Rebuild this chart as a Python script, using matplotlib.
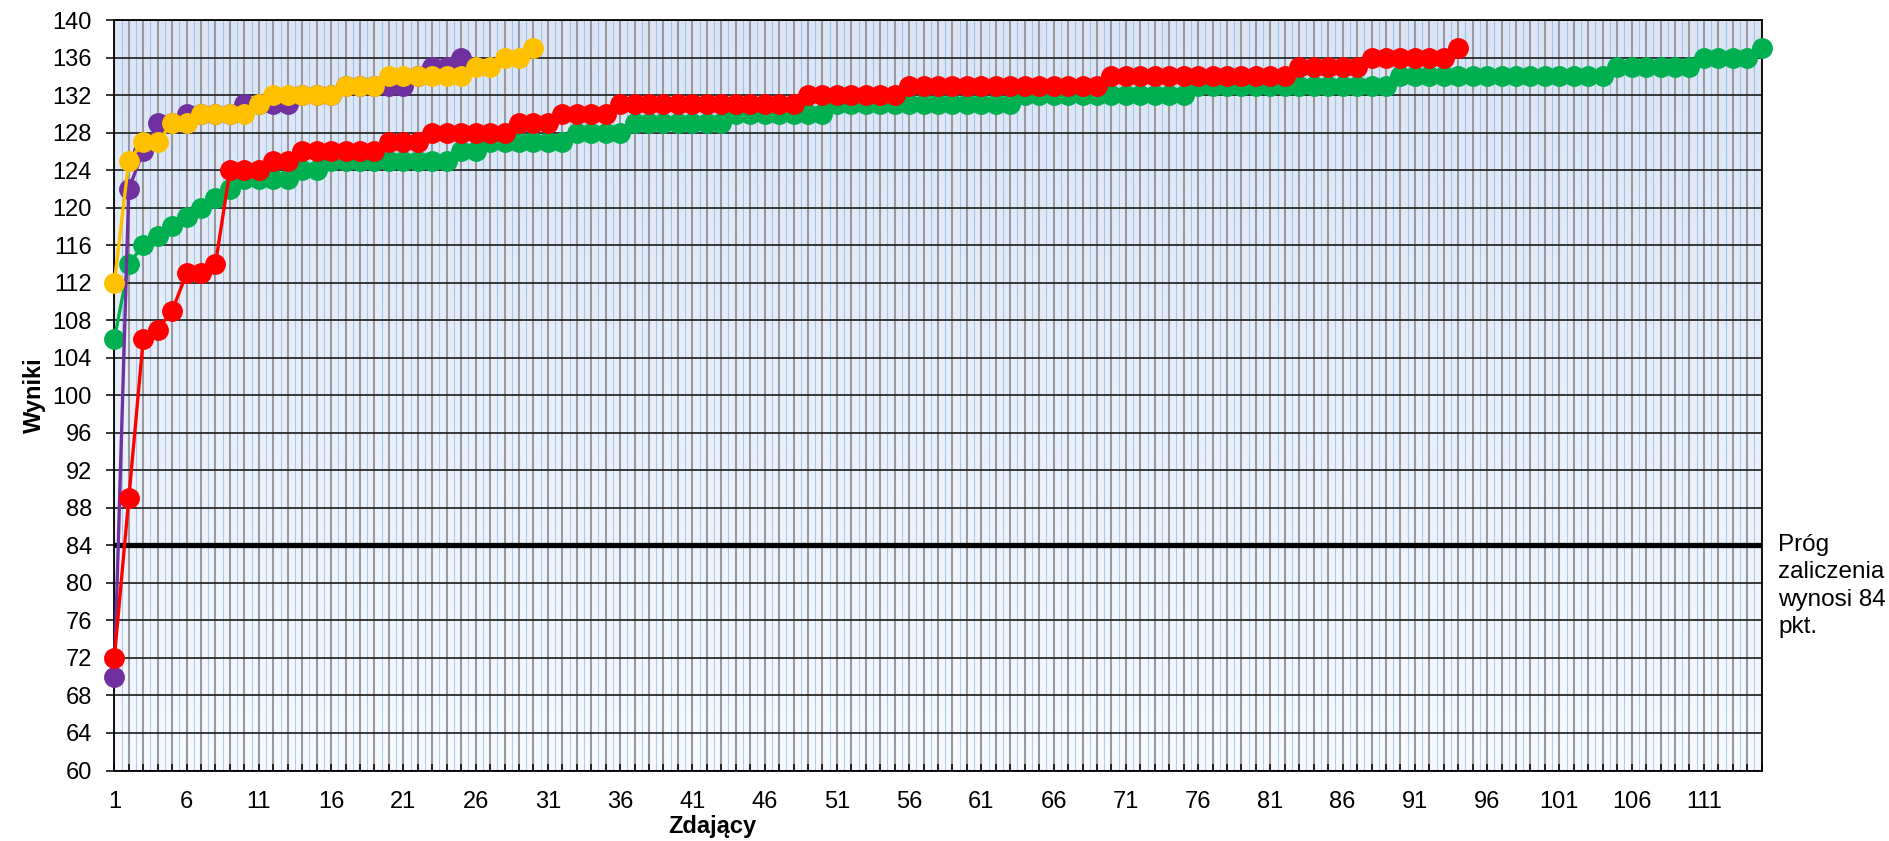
import matplotlib
matplotlib.use('Agg')
import matplotlib.pyplot as plt
import numpy as np

plt.rcParams['font.family'] = ['Liberation Sans', 'DejaVu Sans']

# wyniki zdających (posortowane rosnąco), cztery grupy
purple = [70, 122, 126, 129, 129, 130, 130, 130, 130, 131, 131, 131, 131,
          132, 132, 132, 133, 133, 133, 133, 133, 134, 135, 135, 136]
yellow = [112, 125, 127, 127, 129, 129, 130, 130, 130, 130, 131, 132, 132,
          132, 132, 132, 133, 133, 133, 134, 134, 134, 134, 134, 134, 135,
          135, 136, 136, 137]
red = [72, 89, 106, 107, 109, 113, 113, 114, 124, 124, 124, 125, 125,
       126, 126, 126, 126, 126, 126, 127, 127, 127, 128, 128, 128, 128,
       128, 128, 129, 129, 129, 130, 130, 130, 130, 131, 131, 131, 131,
       131, 131, 131, 131, 131, 131, 131, 131, 131, 132, 132, 132, 132,
       132, 132, 132, 133, 133, 133, 133, 133, 133, 133, 133, 133, 133,
       133, 133, 133, 133, 134, 134, 134, 134, 134, 134, 134, 134, 134,
       134, 134, 134, 134, 135, 135, 135, 135, 135, 136, 136, 136, 136,
       136, 136, 137]
green = [106, 114, 116, 117, 118, 119, 120, 121, 122, 123, 123, 123, 123,
         124, 124, 125, 125, 125, 125, 125, 125, 125, 125, 125, 126, 126,
         127, 127, 127, 127, 127, 127, 128, 128, 128, 128, 129, 129, 129,
         129, 129, 129, 129, 130, 130, 130, 130, 130, 130, 130, 131, 131,
         131, 131, 131, 131, 131, 131, 131, 131, 131, 131, 131, 132, 132,
         132, 132, 132, 132, 132, 132, 132, 132, 132, 132, 133, 133, 133,
         133, 133, 133, 133, 133, 133, 133, 133, 133, 133, 133, 134, 134,
         134, 134, 134, 134, 134, 134, 134, 134, 134, 134, 134, 134, 134,
         135, 135, 135, 135, 135, 135, 136, 136, 136, 136, 137]
threshold = 84
threshold_text = 'Próg\nzaliczenia\nwynosi 84\npkt.'
n_max = len(green)

fig = plt.figure(figsize=(18.9, 8.41), dpi=100)
ax = fig.add_axes([0.0605, 0.0838, 0.8716, 0.8924])

# tło z gradientem jak w Excelu
grad = np.linspace(0, 1, 256).reshape(-1, 1, 1)
top = np.array([0.855, 0.895, 0.96])
bot = np.array([0.97, 0.98, 0.997])
ax.imshow(top + (bot - top) * grad, extent=[0, 1, 0, 1], transform=ax.transAxes,
          aspect='auto', zorder=0)

ax.axhline(threshold, color='black', lw=3.8, zorder=2)

for vals, col, z in [(green, '#00B050', 3), (purple, '#7030A0', 4),
                     (red, '#FF0000', 5), (yellow, '#FFC000', 6)]:
    x = np.arange(1, len(vals) + 1)
    ax.plot(x, vals, '-o', color=col, lw=2.4, ms=14, zorder=z, clip_on=False)

ax.set_xlim(1, n_max)
ax.set_ylim(60, 140)
ax.set_yticks(np.arange(60, 141, 4))
ax.set_xticks(np.arange(1, n_max + 1))
ax.set_xticklabels([str(i) if (i - 1) % 5 == 0 else '' for i in range(1, n_max + 1)])
ax.set_xticks(np.arange(1.5, n_max, 1), minor=True)

ax.tick_params(axis='y', direction='out', length=6, width=1.1, labelsize=17, pad=10)
ax.tick_params(axis='x', which='major', direction='in', length=5, width=1.1,
               labelsize=17, pad=15)
ax.tick_params(axis='x', which='minor', length=0)

ax.grid(axis='x', which='major', color='#979ba1', lw=1.5)
ax.grid(axis='x', which='minor', color='#5b9bd5', lw=0.8, alpha=0.45)
ax.grid(axis='y', which='major', color='#2a2a2a', lw=1.3)
ax.set_axisbelow(True)

for s in ax.spines.values():
    s.set_color('black')
    s.set_linewidth(1.3)

ax.set_xlabel('Zdający', fontsize=17, fontweight='bold')
ax.xaxis.set_label_coords(0.363, -0.059)
ax.set_ylabel('Wyniki', fontsize=17, fontweight='bold')
ax.yaxis.set_label_coords(-0.0415, 0.5)

fig.text(1778 / 1890, 1 - 534 / 841, threshold_text, fontsize=17.5, va='top',
         ha='left', linespacing=1.32)

fig.savefig('out.png', dpi=100)
